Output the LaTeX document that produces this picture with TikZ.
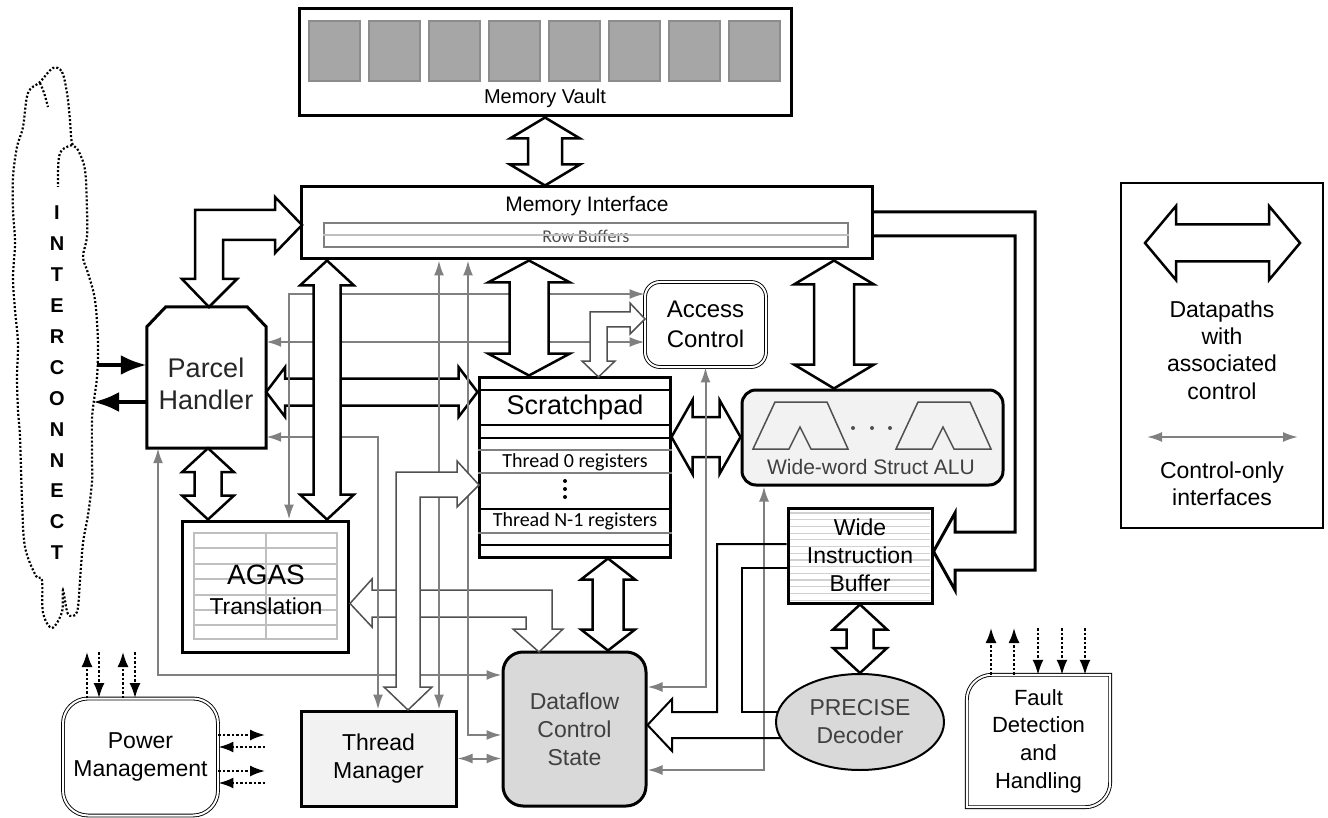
\documentclass[tikz,border=0pt]{standalone}
\usepackage{fontspec}
\setmainfont{Liberation Sans}
\newfontfamily\calfont{Carlito}
\usetikzlibrary{arrows.meta,calc,shapes.geometric}

\definecolor{ctlgray}{RGB}{128,128,128}
\definecolor{bankgray}{RGB}{166,166,166}
\definecolor{bankedge}{RGB}{140,140,140}
\definecolor{unitgray}{RGB}{217,217,217}
\definecolor{palegray}{RGB}{242,242,242}
\definecolor{inkgray}{RGB}{64,64,64}
\definecolor{wiregray}{RGB}{80,80,80}

\newcommand{\fsz}[2]{\fontsize{#1}{#2}\selectfont}

% straight datapath with a head at both ends: #1 upper/left end, #2 lower/right end,
% #3 half shaft, #4 half head, #5 head length
\newcommand{\vbus}[5]{%
  \draw[bus] let \p1=(#1), \p2=(#2) in
    (\x1,\y1) -- (\x1+#4pt,\y1-#5pt) -- (\x1+#3pt,\y1-#5pt)
    -- (\x1+#3pt,\y2+#5pt) -- (\x1+#4pt,\y2+#5pt) -- (\x1,\y2)
    -- (\x1-#4pt,\y2+#5pt) -- (\x1-#3pt,\y2+#5pt)
    -- (\x1-#3pt,\y1-#5pt) -- (\x1-#4pt,\y1-#5pt) -- cycle;}
\newcommand{\hbus}[5]{%
  \draw[bus] let \p1=(#1), \p2=(#2) in
    (\x1,\y1) -- (\x1+#5pt,\y1+#4pt) -- (\x1+#5pt,\y1+#3pt)
    -- (\x2-#5pt,\y1+#3pt) -- (\x2-#5pt,\y1+#4pt) -- (\x2,\y1)
    -- (\x2-#5pt,\y1-#4pt) -- (\x2-#5pt,\y1-#3pt)
    -- (\x1+#5pt,\y1-#3pt) -- (\x1+#5pt,\y1-#4pt) -- cycle;}

\begin{document}
\begin{tikzpicture}[x=1pt, y=-1pt]
  \tikzstyle{box}=[draw, line width=3pt, inner sep=0pt, align=center]
  \tikzstyle{dbl}=[draw, double, double distance=2pt, line width=0.9pt, inner sep=0pt, align=center]
  \tikzstyle{bus}=[draw, fill=white, line width=2.5pt, line join=miter]
  \tikzstyle{thinbus}=[draw=wiregray, fill=white, line width=1.5pt, line join=miter]
  \tikzstyle{ctl}=[draw=ctlgray, line width=2pt, {Latex[length=15pt,width=10pt]}-{Latex[length=15pt,width=10pt]}]
  \tikzstyle{sig}=[dash pattern=on 2.5pt off 2pt, line width=2pt, -{Latex[length=15pt,width=11pt]}]
  \tikzstyle{link}=[line width=4.5pt, -{Latex[length=26pt,width=20pt]}]

  \useasboundingbox (0,0) rectangle (1328,818);

  % memory vault with its banks
  \node[box, minimum width=492pt, minimum height=107pt] (vault) at (545,62.5) {};
  \foreach \i in {0,...,7}
    \filldraw[fill=bankgray, draw=bankedge, line width=1.5pt] (309+60*\i,21) rectangle ++(51,60);
  \node[font=\fsz{20}{24}] (vaultlbl) at (545,98) {Memory Vault};

  % memory interface
  \node[box, minimum width=571pt, minimum height=72pt] (memif) at (586.5,223) {};
  \node[font=\fsz{21}{25}] (memiflbl) at (587,206) {Memory Interface};
  \node[draw=ctlgray, line width=1.5pt, inner sep=0pt, minimum width=524pt, minimum height=24pt] (rowbuf) at (586,235) {};
  \node[font=\calfont\fsz{18}{20}, text=black!70] (rowbuflbl) at (586,236) {Row Buffers};
  \draw[draw=black!25, line width=1.5pt] (rowbuf.west) -- (rowbuf.east);

  % parcel handler
  \node[inner sep=0pt, minimum width=119pt, minimum height=141pt] (parcel) at (206.5,377.5) {};
  \draw[line width=3pt] (parcel.south west) -- ([yshift=-20pt]parcel.north west)
    -- ([xshift=19pt]parcel.north west) -- ([xshift=-19pt]parcel.north east)
    -- ([yshift=-20pt]parcel.north east) -- (parcel.south east) -- cycle;
  \node[font=\fsz{27}{32}, text=black!85, align=center] (parceltxt) at (206,384) {Parcel\\Handler};

  \node[dbl, rounded corners=15pt, minimum width=121pt, minimum height=85pt,
        font=\fsz{24}{30}] (ac) at (705.5,324.5) {Access\\Control};

  % scratchpad
  \node[box, minimum width=191pt, minimum height=180pt] (sp) at (574.5,467) {};
  \foreach \y/\c in {390/black, 425/black, 438/black, 450/ctlgray, 473/ctlgray, 509/black, 533/ctlgray, 545/black}
    \draw[draw=\c, line width=1.5pt] (sp.west |- 0,\y) -- (sp.east |- 0,\y);
  \node[font=\fsz{27}{30}] (sptitle) at (575,408) {Scratchpad};
  \node[font=\calfont\fsz{20}{22}] (reg0) at (575,462) {Thread 0 registers};
  \foreach \y in {481,489,497}
    \fill (565,\y) circle (2pt);
  \node[font=\calfont\fsz{20}{22}] (regn) at (575,521) {Thread N-1 registers};

  % wide-word ALU
  \node[box, fill=palegray, rounded corners=14pt, minimum width=261pt, minimum height=95pt] (alu) at (872.5,437.5) {};
  \foreach \dx in {0,143}
    \draw[draw=wiregray, line width=1.5pt, line join=miter] (753+\dx,449) -- (775+\dx,402) -- (827+\dx,402)
      -- (848+\dx,449) -- (811+\dx,449) -- (800+\dx,427) -- (789+\dx,449) -- cycle;
  \foreach \x in {853,872,890}
    \fill[wiregray] (\x,428) circle (2pt);
  \node[font=\fsz{21}{24}, text=inkgray] (alulbl) at (871,467) {Wide-word Struct ALU};

  % instruction buffer
  \foreach \k in {0,...,13}
    \draw[draw=black!18, line width=1.2pt] (790,513+6.7*\k) -- (930,513+6.7*\k);
  \node[box, minimum width=144pt, minimum height=95pt, font=\fsz{23}{28}] (wib) at (860,555.5) {Wide\\Instruction\\Buffer};

  % AGAS table
  \node[box, minimum width=166pt, minimum height=131pt] (agas) at (265,586.5) {};
  \draw[draw=black!25, line width=1.5pt] (194,533) rectangle (337,639);
  \foreach \y in {548,564,579,595,610,625}
    \draw[draw=black!25, line width=1.5pt] (194,\y) -- (337,\y);
  \draw[draw=black!25, line width=1.5pt] (266,533) -- (266,639);
  \node[font=\fsz{28}{30}] (agaslbl) at (266,575) {AGAS};
  \node[font=\fsz{23}{26}] (agassub) at (266,606) {Translation};

  \node[box, fill=palegray, minimum width=155pt, minimum height=95pt, font=\fsz{23}{28}] (tm) at (378.5,758.5) {Thread\\Manager};
  \node[box, fill=unitgray, rounded corners=20pt, minimum width=143pt, minimum height=154pt,
        font=\fsz{23}{28}, text=inkgray] (dfs) at (574.5,729) {Dataflow\\Control\\State};
  \node[box, ellipse, line width=2pt, fill=unitgray, minimum width=168pt, minimum height=96pt,
        font=\fsz{23}{28}, text=inkgray] (prec) at (860,722) {PRECISE\\Decoder};

  \node[dbl, rounded corners=25pt, minimum width=155pt, minimum height=117pt,
        font=\fsz{23}{28}] (pm) at (140.5,757) {Power\\Management};

  % fault unit: round corners top left and bottom right only
  \node[inner sep=0pt, minimum width=143pt, minimum height=132pt, align=center,
        font=\fsz{22}{27.7}] (fdh) at (1038.5,741) {Fault\\Detection\\and\\Handling};
  \draw[double, double distance=2pt, line width=0.9pt] (fdh.south west)
    -- ([yshift=-25pt]fdh.north west) arc[start angle=180, end angle=90, radius=25pt]
    -- (fdh.north east) -- ([yshift=25pt]fdh.south east) arc[start angle=0, end angle=-90, radius=25pt]
    -- cycle;

  % interconnect cloud
  \draw[dash pattern=on 2pt off 2pt, line width=2.2pt] plot[smooth cycle, tension=0.55] coordinates {
    (53,68) (62,72) (67,93) (70,120) (72,143) (78,150) (85,170) (87,210) (87,237) (83,257)
    (88,273) (95,300) (98,343) (97,377) (94,400) (92,420) (92,460) (92,482) (88,515) (83,543)
    (80,580) (77,612) (68,614) (63,590) (62,612) (52,628) (43,613) (42,580) (36,576) (25,547)
    (22,500) (20,437) (18,410) (17,377) (18,343) (15,310) (13,277) (15,243) (13,210) (13,177)
    (17,147) (23,127) (28,93) (40,82)};
  \draw[dash pattern=on 2pt off 2pt, line width=2.2pt] (40,83) .. controls (44,92) .. (48,107);
  \draw[dash pattern=on 2pt off 2pt, line width=2.2pt] (72,145) .. controls (58,150) .. (58,187);
  \foreach \c [count=\i from 0] in {I,N,T,E,R,C,O,N,N,E,C,T}
    \node[font=\bfseries\fsz{20}{22}] (icl\i) at (57,213+30.9*\i) {\c};

  \coordinate (netin) at (97,365);
  \coordinate (netout) at (93,402);
  \draw[link] (netin) -- (parcel.west |- netin);
  \draw[link] (parcel.west |- netout) -- (netout);

  % datapaths under the control wires
  \draw[thinbus] (372,590) -- (552,590) -- (552,629) -- (563,629) -- (539,652) -- (513,629)
    -- (526,629) -- (526,617) -- (372,617) -- (372,627) -- (350,603.5) -- (372,579) -- cycle;
  \hbus{parcel.east |- 0,392}{sp.west |- 0,392}{13.5}{25}{19}
  \hbus{sp.east |- 0,437}{alu.west |- 0,437}{20}{37}{21}

  % control-only wires
  \draw[ctl] (agas.north -| 289,0) -- (289,294) -- (ac.west |- 0,294);
  \draw[ctl] (parcel.east |- 0,342) -- (ac.west |- 0,342);
  \draw[ctl] (parcel.east |- 0,437) -| (tm.north -| 378,0);
  \draw[ctl] (memif.south -| 439,0) -- (tm.north -| 439,0);
  \draw[ctl] (memif.south -| 468,0) |- (dfs.west |- 0,735);
  \draw[ctl] (parcel.south -| 158,0) |- (dfs.west |- 0,675);
  \draw[ctl] (tm.east) -- (dfs.west |- tm.east);
  \draw[ctl] (ac.south) |- (dfs.east |- 0,687);
  \draw[ctl] (alu.south -| 764,0) |- (dfs.east |- 0,770);

  % datapaths
  \draw[thinbus] (396,687) -- (396,472) -- (457,472) -- (457,461) -- (479,485) -- (457,507)
    -- (457,497) -- (420,497) -- (420,687) -- (432,687) -- (408,710) -- (384,687) -- cycle;
  \vbus{memif.south -| 327,0}{agas.north -| 327,0}{13.5}{27}{25}
  \vbus{memif.south -| 529,0}{sp.north -| 529,0}{19.5}{41}{22}
  \vbus{vault.south}{memif.north}{17}{35}{21}
  \vbus{memif.south -| 834,0}{alu.north -| 834,0}{20}{40}{24}
  \vbus{parcel.south -| 208,0}{agas.north -| 208,0}{13.5}{26}{24}
  \vbus{sp.south -| 608,0}{dfs.north -| 608,0}{15.5}{27}{21}
  \vbus{wib.south}{prec.north}{13.5}{27}{25}
  \draw[bus] (195,279) -- (195,210) -- (275,210) -- (275,197) -- (302,225) -- (275,253)
    -- (275,240) -- (223,240) -- (223,279) -- (237,279) -- (209,307) -- (182,279) -- cycle;
  \draw[thinbus] (590,361) -- (590,312) -- (630,312) -- (630,303) -- (645,319) -- (630,334)
    -- (630,327) -- (607,327) -- (607,361) -- (615,361) -- (598.5,377) -- (582,361) -- cycle;
  \draw[line width=3pt, line join=miter] (memif.east |- 0,212) -- (1035,212) -- (1035,570)
    -- (955,570) -- (955,590) -- (wib.east |- 0,551.5) -- (955,513) -- (955,532)
    -- (1015,532) -- (1015,236) -- (memif.east |- 0,236);
  \draw[line width=2pt, line join=miter] (wib.west |- 0,544) -- (717,544) -- (717,712) -- (672,712)
    -- (672,699) -- (dfs.east |- 0,725) -- (672,751) -- (672,738) -- (781,738);
  \draw[line width=2pt] (wib.west |- 0,568) -- (742,568) -- (742,712) -- (778,712);

  % power and fault signals
  \foreach \x in {87,123}
    \draw[sig] (pm.north -| \x,0) -- (\x,652);
  \foreach \x in {99,135}
    \draw[sig] (\x,652) -- (pm.north -| \x,0);
  \foreach \y in {735,771}
    \draw[sig] (pm.east |- 0,\y) -- (265,\y);
  \foreach \y in {747,783}
    \draw[sig] (265,\y) -- (pm.east |- 0,\y);
  \foreach \x in {991,1014}
    \draw[sig] (fdh.north -| \x,0) -- (\x,628);
  \foreach \x in {1038,1062,1085}
    \draw[sig] (\x,628) -- (fdh.north -| \x,0);

  % legend
  \node[draw, line width=1.5pt, minimum width=202pt, minimum height=345pt] (legend) at (1222,355.5) {};
  \coordinate (legbusl) at (1145,243);
  \coordinate (legbusr) at (1300,243);
  \hbus{legbusl}{legbusr}{18.5}{37}{31}
  \node[font=\fsz{23}{27.3}, align=center] (legbustxt) at (1222,350) {Datapaths\\with\\associated\\control};
  \coordinate (legctll) at (1147,437);
  \coordinate (legctlr) at (1298,437);
  \draw[ctl] (legctll) -- (legctlr);
  \node[font=\fsz{23}{27}, align=center] (legctltxt) at (1222,484) {Control-only\\interfaces};
\end{tikzpicture}
\end{document}
